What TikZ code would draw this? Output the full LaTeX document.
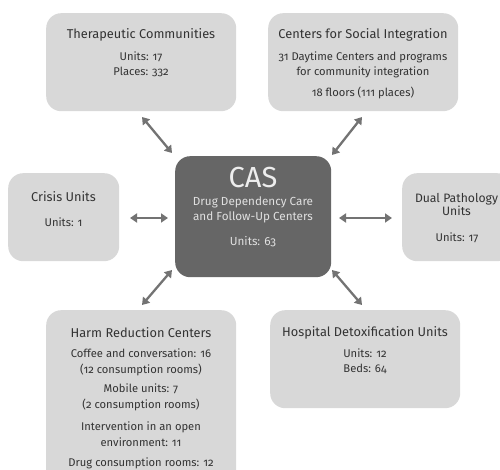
\documentclass[tikz,border=0pt]{standalone}
\usepackage{fontspec}
\setmainfont{Fira Sans}[Numbers=OldStyle]
\usetikzlibrary{arrows.meta}
\definecolor{boxgray}{HTML}{D8D8D8}
\definecolor{casgray}{HTML}{666666}
\definecolor{arrgray}{HTML}{737373}
\definecolor{txt}{HTML}{333333}
\begin{document}
\begin{tikzpicture}[x=1pt,y=-1pt,
  box/.style={fill=boxgray, rounded corners=15pt, anchor=north west, inner sep=0pt},
  ttl/.style={font=\fontsize{12.8}{15}\selectfont, text=txt, anchor=center, inner sep=0pt, align=center},
  bdy/.style={font=\fontsize{11.2}{17}\selectfont, text=txt, anchor=center, inner sep=0pt, align=center},
  arr/.style={draw=arrgray, line width=2.3pt, {Triangle[length=7pt,width=9pt]}-{Triangle[length=7pt,width=9pt]}}]
\useasboundingbox (0,0) rectangle (500,470);
\clip (0,0) rectangle (500,470);
% boxes
\node[box, minimum width=190pt, minimum height=98pt] (tc) at (46,13) {};
\node[box, minimum width=190pt, minimum height=98pt] (csi) at (268,13) {};
\node[box, minimum width=111pt, minimum height=88pt] (cu) at (8,173) {};
\node[box, fill=casgray, minimum width=156pt, minimum height=121pt] (cas) at (175,156) {};
\node[box, minimum width=110pt, minimum height=88pt] (dp) at (402,173) {};
\node[box, minimum width=190pt, minimum height=180pt] (hr) at (46,310) {};
\node[box, minimum width=190pt, minimum height=98pt] (hd) at (270,310) {};
% texts
\node[ttl] (tct) at (141,35) {Therapeutic Communities};
\node[bdy] (tcb) at (141,64.5) {Units: 17\\[-2pt]Places: 332};
\node[ttl] (csit) at (363,35) {Centers for Social Integration};
\node[bdy] (csib) at (363,64.5) {31 Daytime Centers and programs\\[-2pt]for community integration};
\node[bdy] (csic) at (363,93) {18 floors (111 places)};
\node[ttl] (cut) at (63.5,197) {Crisis Units};
\node[bdy] (cub) at (63.5,222) {Units: 1};
\node[ttl, font=\fontsize{12.2}{14.5}\selectfont] (dpt) at (456.5,204.5) {Dual Pathology\\[-1pt]Units};
\node[bdy] (dpb) at (457,238) {Units: 17};
\node[font=\fontsize{29}{30}\selectfont, text=white!93!black, inner sep=0pt] (cast) at (253,178) {CAS};
\node[bdy, text=white!88!black, font=\fontsize{11.7}{15}\selectfont] (casb) at (253,209.5) {Drug Dependency Care\\and Follow-Up Centers};
\node[bdy, text=white!88!black, font=\fontsize{11.7}{15}\selectfont] (casc) at (253,242) {Units: 63};
\node[ttl] (hrt) at (141,333) {Harm Reduction Centers};
\node[bdy] (hr1) at (141,362) {Coffee and conversation: 16\\[-1pt](12 consumption rooms)};
\node[bdy] (hr2) at (141,397.5) {Mobile units: 7\\[-1pt](2 consumption rooms)};
\node[bdy] (hr3) at (141,434.5) {Intervention in an open\\[-1pt]environment: 11};
\node[bdy] (hr4) at (141,463) {Drug consumption rooms: 12};
\node[ttl] (hdt) at (365,333) {Hospital Detoxification Units};
\node[bdy] (hdb) at (365,361.5) {Units: 12\\[-2pt]Beds: 64};
% arrow endpoints
\coordinate (a1s) at (142,117); \coordinate (a1e) at (172,153);
\coordinate (a2s) at (362,117); \coordinate (a2e) at (332,155);
\coordinate (a3s) at (130,218); \coordinate (a3e) at (168,218);
\coordinate (a4s) at (339,218); \coordinate (a4e) at (392,218);
\coordinate (a5s) at (172,270); \coordinate (a5e) at (142,305);
\coordinate (a6s) at (332,270); \coordinate (a6e) at (362,305);
\draw[arr] (a1s) -- (a1e);
\draw[arr] (a2s) -- (a2e);
\draw[arr] (a3s) -- (a3e);
\draw[arr] (a4s) -- (a4e);
\draw[arr] (a5s) -- (a5e);
\draw[arr] (a6s) -- (a6e);
\end{tikzpicture}
\end{document}
